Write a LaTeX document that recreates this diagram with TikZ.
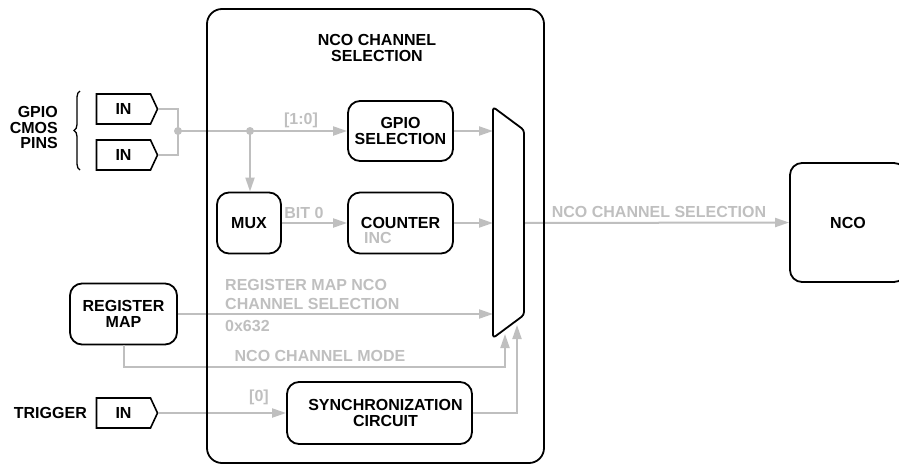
\documentclass[tikz,border=0pt]{standalone}
\usepackage{fontspec}
\setmainfont{Liberation Sans}
\usetikzlibrary{arrows.meta,shapes.symbols,decorations.pathreplacing}
\definecolor{gr}{RGB}{191,191,191}
\begin{document}
\begin{tikzpicture}[x=1pt,y=-1pt,
 every node/.style={font=\fontsize{16}{16.5}\selectfont\bfseries, inner sep=0pt},
 blk/.style={draw=black, line width=1.8pt, rounded corners=12pt, align=center},
 pinbox/.style={draw=black, line width=1.6pt, signal, signal to=east, signal pointer angle=130, minimum width=61pt, minimum height=30pt},
 gl/.style={draw=gr, line width=2pt},
 ga/.style={gl, -{Triangle[length=14pt,width=9pt]}},
 glab/.style={text=gr},
 jdot/.style={circle, fill=gr, minimum size=8pt}]
\useasboundingbox (0,0) rectangle (899,466);

% title
\node[align=center] (title) at (377,48) {NCO CHANNEL\\SELECTION};

% input pins
\node[pinbox] (in1) at (123.5,109) {IN};
\node[pinbox] (in2) at (123.5,155) {IN};
\node[pinbox] (trig) at (123.5,413) {IN};
\node[anchor=east, align=right, font=\fontsize{16}{15.5}\selectfont\bfseries] (gpl) at (58,127.5) {GPIO\\CMOS\\PINS};
\node[anchor=east] (tl) at (87,413) {TRIGGER};
\draw[line width=1.3pt, decorate, decoration={brace, amplitude=6pt}] (80,170) -- (80,91);

% boxes
\node[blk, minimum width=105pt, minimum height=60pt] (gsel) at (400.5,131) {GPIO\\SELECTION};
\node[blk, minimum width=64pt, minimum height=61pt] (mux) at (249,223) {MUX};
\node[blk, minimum width=105pt, minimum height=61pt] (cnt) at (400.5,223) {COUNTER};
\node[glab, anchor=west] (inc) at (364,238) {INC};
\node[blk, minimum width=107pt, minimum height=61pt] (reg) at (123.5,314) {REGISTER\\MAP};
\node[blk, minimum width=185pt, minimum height=62pt] (sync) at (379.5,413) {};
\node[align=center] (synct) at ([xshift=6pt]sync.center) {SYNCHRONIZATION\\CIRCUIT};
\node[blk, minimum width=116pt, minimum height=119pt] (nco) at (848,222.5) {NCO};

% junctions
\node[jdot] (j1) at (178,131) {};
\node[jdot] (j2) at (250,131) {};

% selector inputs
\coordinate (m1) at (493,131);
\coordinate (m2) at (493,223);
\coordinate (m3) at (493,314);
\coordinate (mo) at (524,223);
\coordinate (mb1) at (505,334);
\coordinate (mb2) at (517,325);
\coordinate (mc) at (505,367);
\coordinate (sc) at (517,413);

% connectors
\draw[gl] (in1.east) -| (j1.center);
\draw[gl] (in2.east) -| (j1.center);
\draw[ga] (j1.center) -- (gsel.west);
\draw[ga] (j2.center) -- (j2.center |- mux.north);
\draw[ga] (mux.east) -- (cnt.west);
\draw[ga] (gsel.east) -- (m1);
\draw[ga] (cnt.east) -- (m2);
\draw[ga] (reg.east) -- (m3);
\draw[ga] (reg.south) |- (mc) -- (mb1);
\draw[ga] (trig.east) -- (sync.west);
\draw[ga] (sync.east) -- (sc) -- (mb2);
\draw[ga] (mo) -- (nco.west);

% labels
\node[glab] (l10) at (301,120) {[1:0]};
\node[glab] (lb0) at (304,213) {BIT 0};
\node[glab, anchor=west] (lr1) at (225,285) {REGISTER MAP NCO};
\node[glab, anchor=west] (lr2) at (225,304) {CHANNEL SELECTION};
\node[glab, anchor=west] (lhex) at (225,326) {0x632};
\node[glab] (lmode) at (320,356) {NCO CHANNEL MODE};
\node[glab] (lout) at (659,212) {NCO CHANNEL SELECTION};
\node[glab] (l0) at (259,397) {[0]};

% selector (trapezoid)
\draw[line width=1.8pt, rounded corners=3pt, line join=round] (493,107) -- (524,130) -- (524,315) -- (493,338) -- cycle;

% outer frame
\node[blk, rounded corners=15pt, minimum width=337pt, minimum height=454pt] (frame) at (375.5,236) {};
\end{tikzpicture}
\end{document}
